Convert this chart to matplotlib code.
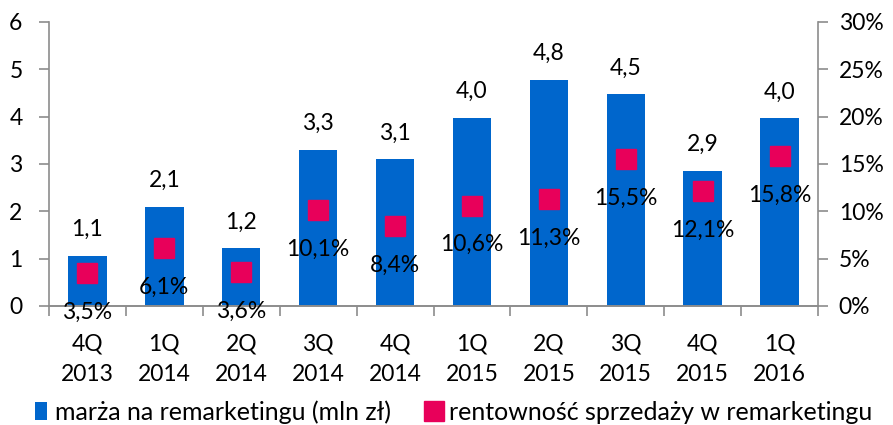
import matplotlib
matplotlib.use("Agg")
import matplotlib.pyplot as plt
import numpy as np

plt.rcParams['font.family'] = ['Lato', 'DejaVu Sans']

# quarters and values
quarters = ["4Q\n2013", "1Q\n2014", "2Q\n2014", "3Q\n2014", "4Q\n2014",
            "1Q\n2015", "2Q\n2015", "3Q\n2015", "4Q\n2015", "1Q\n2016"]
margin = [1.06, 2.1, 1.22, 3.3, 3.1, 3.98, 4.78, 4.47, 2.86, 3.97]
profit = [3.5, 6.1, 3.6, 10.1, 8.4, 10.6, 11.3, 15.5, 12.1, 15.8]

blue = '#0066CC'
pink = '#E8005A'
grey = '#8C8C8C'
fs = 16.5

fig = plt.figure(figsize=(8.93, 4.25), dpi=100)
ax = fig.add_axes([49/893, 1 - 306/425, (818-49)/893, (306-22)/425])
ax2 = ax.twinx()

x = np.arange(len(quarters))
ax.bar(x, margin, width=0.5, color=blue, label='marża na remarketingu (mln zł)', zorder=2)
ax2.plot(x, profit, 's', color=pink, markersize=14.5, linestyle='none',
         label='rentowność sprzedaży w remarketingu', zorder=3)

for xi, v in zip(x, margin):
    ax.annotate(f"{v:.1f}".replace('.', ','), (xi, v), xytext=(0, 26),
                textcoords='offset pixels', ha='center', va='center', fontsize=fs)
for xi, p in zip(x, profit):
    ax2.annotate(f"{p:.1f}%".replace('.', ','), (xi, p), xytext=(0, -39),
                 textcoords='offset pixels', ha='center', va='center', fontsize=fs)

ax.set_xlim(-0.5, len(quarters) - 0.5)
ax.set_ylim(0, 6)
ax2.set_ylim(0, 30)
ax.set_yticks(range(0, 7))
ax2.set_yticks(range(0, 31, 5))
ax2.set_yticklabels([f"{t}%" for t in range(0, 31, 5)])

ax.set_xticks(x)
ax.set_xticklabels(quarters, fontsize=fs, linespacing=1.55)
ax.set_xticks(np.arange(-0.5, len(quarters), 1), minor=True)
ax.tick_params(axis='x', which='major', length=0, pad=20)
ax.tick_params(axis='x', which='minor', length=7, color=grey, width=1.2)
ax.tick_params(axis='y', labelsize=fs, length=7, color=grey, width=1.2, pad=12)
ax2.tick_params(axis='y', labelsize=fs, length=7, color=grey, width=1.2, pad=8)

for a in (ax, ax2):
    for s in a.spines.values():
        s.set_color(grey)
        s.set_linewidth(1.2)
    a.spines['top'].set_visible(False)
ax.spines['right'].set_visible(False)
ax2.spines['left'].set_visible(False)

h1, l1 = ax.get_legend_handles_labels()
h2, l2 = ax2.get_legend_handles_labels()
fig.legend(h1 + h2, l1 + l2, loc='lower center', bbox_to_anchor=(0.508, -0.032), ncol=2,
           frameon=False, fontsize=18, handlelength=0.45, handleheight=0.7,
           handletextpad=0.35, columnspacing=1.5, borderaxespad=0.2)

fig.savefig("out.png", dpi=100)
